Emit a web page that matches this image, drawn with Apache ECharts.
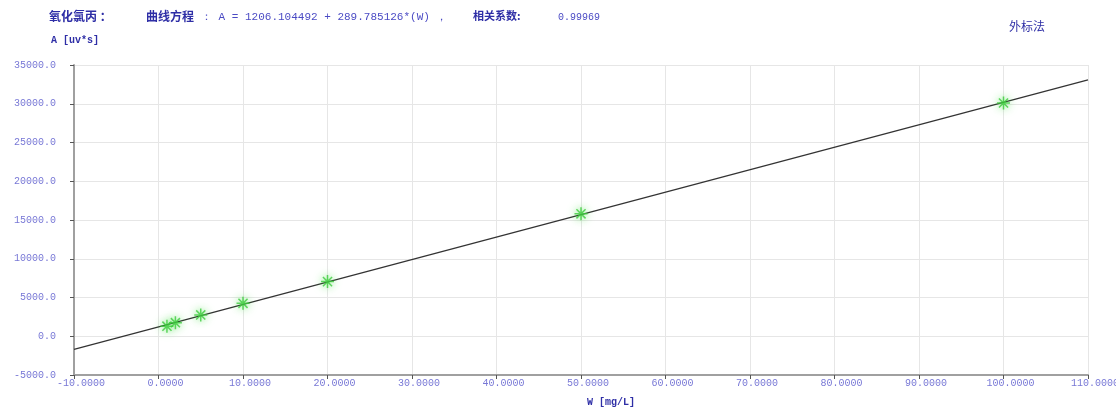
<!DOCTYPE html>
<html>
<head>
<meta charset="utf-8">
<script src="https://cdn.jsdelivr.net/npm/echarts@6/dist/echarts.min.js"></script>
<style>
  html, body { margin: 0; padding: 0; background: #fff; }
  #chart { width: 1116px; height: 412px; }
</style>
</head>
<body>
<div id="chart"></div>
<script>
// 标准点 (浓度, 峰面积)
var concX = [1, 2, 5, 10, 20, 50, 100]
var areaY = [1300, 1750, 2750, 4250, 7050, 15800, 30100]
// 拟合直线 A = 1206.104492 + 289.785126*W 两端
var fitX = [-10, 110]
var fitY = [-1691.75, 33082.47]

var xTicks = { min: -10, max: 110, interval: 10 }
var yTicks = { min: -5000, max: 35000, interval: 5000 }

var chart = echarts.init(document.getElementById('chart'))
var cjk = '"Noto Sans CJK SC", sans-serif'
var mono = '"Liberation Mono", "DejaVu Sans Mono", monospace'
var labelColor = '#7878d6'
var darkBlue = '#2e2ea6'
var midBlue = '#4a4ac4'

function txt(left, top, text, size, color, family, weight) {
  return {
    left: left, top: top, text: text,
    textStyle: { fontSize: size, color: color, fontFamily: family, fontWeight: weight || 'normal' }
  }
}

var star = 'path://M5 0L5 10M0 5L10 5M1.5 1.5L8.5 8.5M8.5 1.5L1.5 8.5'

var option = {
  backgroundColor: '#fff',
  animation: false,
  title: [
    txt(44, 5, '氧化氯丙 ：', 12, darkBlue, cjk, 'bold'),
    txt(141, 5, '曲线方程', 12, darkBlue, cjk, 'bold'),
    txt(196, 7, '： A = 1206.104492 + 289.785126*(W) ，', 11, midBlue, mono),
    txt(468, 5, '相关系数:', 11, darkBlue, cjk, 'bold'),
    txt(553, 7, '0.99969', 10, midBlue, mono),
    txt(46, 30, 'A [uv*s]', 10, darkBlue, mono, 'bold'),
    txt(1004, 15, '外标法', 12, darkBlue, cjk),
    txt(582, 392, 'W [mg/L]', 10, darkBlue, mono, 'bold')
  ],
  grid: { left: 74, right: 28, top: 65, bottom: 37, outerBoundsMode: 'none' },
  xAxis: {
    type: 'value',
    min: xTicks.min, max: xTicks.max, interval: xTicks.interval,
    axisLine: { show: true, onZero: false, lineStyle: { color: '#a0a0a0', width: 2 } },
    axisTick: { show: true, inside: false, length: 4, lineStyle: { color: '#555' } },
    splitLine: { show: true, lineStyle: { color: '#e6e6e6', width: 1 } },
    axisLabel: {
      color: labelColor, fontSize: 10, align: 'center', margin: 3, fontFamily: mono,
      padding: [0, 0, 0, 14],
      formatter: function (v) { return v.toFixed(4) }
    }
  },
  yAxis: {
    type: 'value',
    min: yTicks.min, max: yTicks.max, interval: yTicks.interval,
    axisLine: { show: true, onZero: false, lineStyle: { color: '#a0a0a0', width: 2 } },
    axisTick: { show: true, length: 4, lineStyle: { color: '#555' } },
    splitLine: { show: true, lineStyle: { color: '#e6e6e6', width: 1 } },
    axisLabel: {
      color: labelColor, fontSize: 10, margin: 18, fontFamily: mono,
      formatter: function (v) { return v.toFixed(1) }
    }
  },
  series: [
    {
      type: 'line',
      data: fitX.map(function (x, i) { return [x, fitY[i]] }),
      showSymbol: false,
      lineStyle: { color: '#333', width: 1.2 },
      z: 2
    },
    {
      type: 'scatter',
      data: concX.map(function (x, i) { return [x, areaY[i]] }),
      symbol: star,
      symbolSize: 13,
      itemStyle: {
        color: 'rgba(60,210,60,0.25)',
        borderColor: '#3ccc3c',
        borderWidth: 1.5,
        shadowBlur: 9,
        shadowColor: 'rgba(40,220,40,0.8)'
      },
      z: 3
    }
  ]
}

chart.setOption(option)
</script>
</body>
</html>
